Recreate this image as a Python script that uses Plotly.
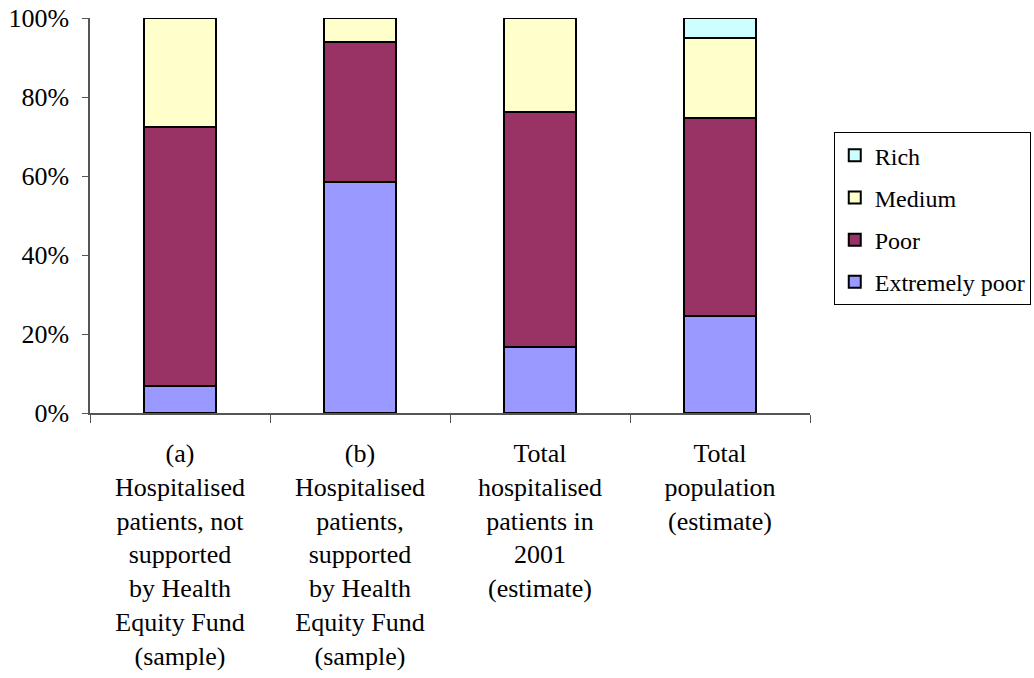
import plotly.graph_objects as go

categories = [
    "(a)<br>Hospitalised<br>patients, not<br>supported<br>by Health<br>Equity Fund<br>(sample)",
    "(b)<br>Hospitalised<br>patients,<br>supported<br>by Health<br>Equity Fund<br>(sample)",
    "Total<br>hospitalised<br>patients in<br>2001<br>(estimate)",
    "Total<br>population<br>(estimate)",
]
extremely_poor = [6.8, 58.5, 16.6, 24.6]
poor = [65.5, 35.5, 59.7, 50.2]
medium = [27.7, 6.0, 23.7, 20.1]
rich = [0.0, 0.0, 0.0, 5.1]
y_ticks = [0, 20, 40, 60, 80, 100]
y_tick_labels = ["0%", "20%", "40%", "60%", "80%", "100%"]

# (name, values, fill colour, legend rank) — stacked bottom to top
series = [
    ("Extremely poor", extremely_poor, "#9999FF", 4),
    ("Poor", poor, "#993366", 3),
    ("Medium", medium, "#FFFFCC", 2),
    ("Rich", rich, "#CCFFFF", 1),
]

FONT = "'Liberation Serif', 'Times New Roman', Times, serif"

fig = go.Figure()
for name, vals, color, rank in series:
    fig.add_trace(go.Bar(
        x=categories, y=vals, name=name, legendgroup=name, legendrank=rank,
        marker=dict(color=color, line=dict(color="black", width=2)),
        width=0.4,
    ))

fig.update_layout(
    barmode="stack",
    width=1034, height=678,
    margin=dict(l=90, r=224, t=18, b=265, autoexpand=False),
    paper_bgcolor="white", plot_bgcolor="white",
    font=dict(family=FONT, size=25, color="black"),
    legend=dict(
        x=1.033, y=0.711, xanchor="left", yanchor="top",
        traceorder="grouped", tracegroupgap=8,
        bordercolor="black", borderwidth=1,
        font=dict(family=FONT, size=24),
        itemwidth=30,
    ),
    xaxis=dict(
        showline=True, linecolor="#555555", linewidth=1.5,
        ticks="outside", tickson="boundaries", ticklen=8, tickcolor="#555555",
        tickfont=dict(family=FONT, size=26),
        ticklabelstandoff=16, automargin=False,
    ),
    yaxis=dict(
        range=[0, 100], tickmode="array", tickvals=y_ticks, ticktext=y_tick_labels,
        showline=True, linecolor="#555555", linewidth=1.5,
        ticks="outside", ticklen=6, tickcolor="#555555",
        showgrid=False, zeroline=False, automargin=False,
        tickfont=dict(family=FONT, size=26),
        ticklabelstandoff=8,
    ),
)

fig.write_html("out.html")
